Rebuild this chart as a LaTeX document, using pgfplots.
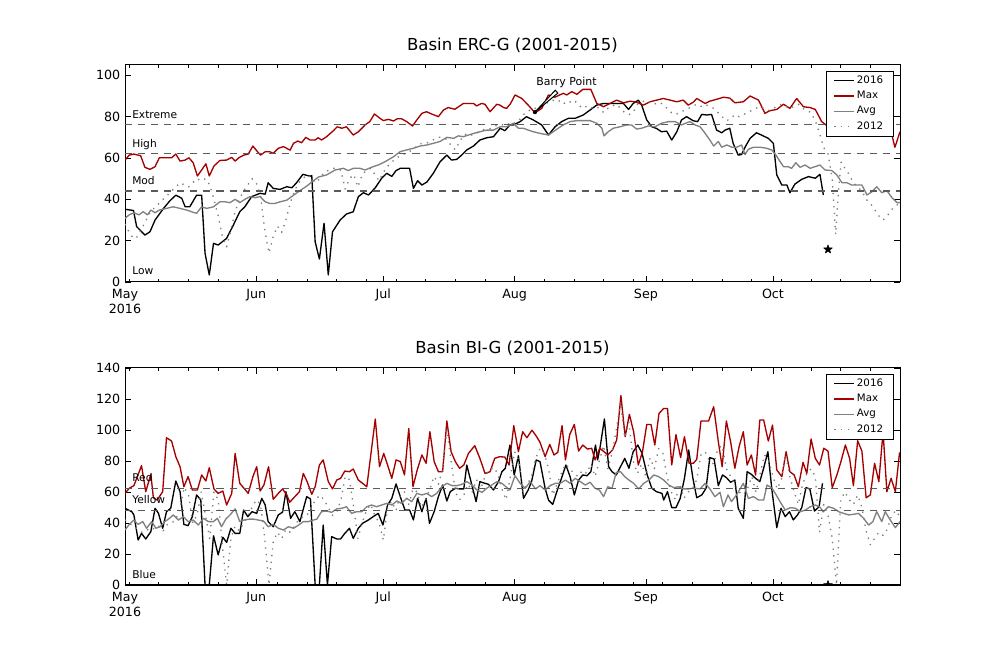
\documentclass[border=0pt]{standalone}
\usepackage{pgfplots}
\pgfplotsset{compat=1.18}
\usepackage{fontspec}
\setmainfont{DejaVu Sans}
\definecolor{maxred}{RGB}{165,0,0}
\definecolor{avggray}{RGB}{128,128,128}
\definecolor{dotgray}{RGB}{125,125,125}
\definecolor{refline}{RGB}{90,90,90}

\pgfdeclareplotmark{fstar}{%
 \pgfpathmoveto{\pgfpointpolar{90}{\pgfplotmarksize}}%
 \pgfpathlineto{\pgfpointpolar{126}{0.4\pgfplotmarksize}}%
 \pgfpathlineto{\pgfpointpolar{162}{\pgfplotmarksize}}%
 \pgfpathlineto{\pgfpointpolar{198}{0.4\pgfplotmarksize}}%
 \pgfpathlineto{\pgfpointpolar{234}{\pgfplotmarksize}}%
 \pgfpathlineto{\pgfpointpolar{270}{0.4\pgfplotmarksize}}%
 \pgfpathlineto{\pgfpointpolar{306}{\pgfplotmarksize}}%
 \pgfpathlineto{\pgfpointpolar{342}{0.4\pgfplotmarksize}}%
 \pgfpathlineto{\pgfpointpolar{18}{\pgfplotmarksize}}%
 \pgfpathlineto{\pgfpointpolar{54}{0.4\pgfplotmarksize}}%
 \pgfpathclose\pgfusepathqfillstroke}

\pgfplotsset{basin/.style={
  scale only axis, width=581.25pt, height=162.75pt, anchor=south west,
  xmin=0, xmax=183,
  xtick={0,31,61,92,123,153},
  xticklabels={May\\2016,Jun,Jul,Aug,Sep,Oct},
  xticklabel style={align=center, yshift=-1.8pt, font=\fontsize{9.5}{11}\selectfont},
  yticklabel style={font=\fontsize{9.5}{11}\selectfont},
  minor xtick={1,8,...,183},
  tick align=inside,
  major tick length=4.5pt, minor tick length=2.2pt,
  tick style={black, line width=0.6pt},
  axis line style={line width=0.75pt},
  /pgf/number format/assume math mode=true,
  title style={at={(0.5,1)}, anchor=south, yshift=3pt, inner sep=0pt, font=\fontsize{12.4}{14}\selectfont},
  legend style={at={(1,1)}, anchor=north east, xshift=-5pt, yshift=-4.5pt, draw=black, fill=white,
    font=\fontsize{7.7}{8}\selectfont, inner xsep=5.5pt, inner ysep=1.5pt, row sep=0.3pt, cells={anchor=west}},
  legend image code/.code={\draw[#1] (0pt,0pt) -- (14.5pt,0pt);},
  every axis plot/.append style={line join=round},
},
refl/.style={refline, line width=0.85pt, dash pattern=on 5.3pt off 4.5pt, mark=none, forget plot}}
\tikzset{lab/.style={anchor=base west, inner sep=0pt, font=\fontsize{8}{9}\selectfont}}

\begin{document}
\begin{tikzpicture}
\useasboundingbox (0,0) rectangle (750pt,487.5pt);

% ---------------- Top panel ----------------
\begin{axis}[basin, at={(93.75pt,276pt)}, ymin=0, ymax=105, ytick={0,20,...,100},
  title={Basin ERC-G (2001-2015)}]
\addplot[black, line width=1pt, mark=none] coordinates {
(0,35.2)(2,34.6)(2.75,26.8)(4.7,22.7)(5.9,24.3)(7.1,30)(9.1,35.6)(10.6,39.3)(12,42)(13.4,40.5)(14.2,36.4)(15.3,36.4)(16.9,42)(18.1,42)(18.9,13.9)(19.9,3.4)(20.9,18.7)(22,17.9)(24,21.1)(25.6,27.6)(27.1,34)(28.3,36.4)(29.9,41.3)(31.9,42.9)(33.1,42.5)(33.8,48)(35,45.3)(36.6,44.8)(38.2,46.1)(39.4,45.6)(40.5,48)(42,52.1)(43.7,51.2)(44.1,51.5)(44.9,19.5)(45.9,11.1)(47,28.4)(48,3.4)(49,24.3)(50.8,30)(52.3,32.9)(53.9,34)(55.1,41.3)(56.3,43.2)(57.5,42.1)(59.1,45.6)(60.6,50.2)(61.8,52.6)(63,51.1)(64,53.9)(65,55)(67.2,55)(68.1,45.3)(69.1,49)(70.1,46.9)(71.3,48.4)(72.8,52.6)(74.4,58.2)(76,61.4)(77.1,59)(78.3,59.3)(79.5,61.4)(80.7,63.9)(82.3,65.8)(83.8,68.7)(85.4,69.8)(87,70.3)(88.6,74.4)(89.7,73.2)(90.9,76)(91.7,76)(93.3,77.6)(94.8,80)(96.4,78.4)(98.4,76)(100,71.1)(101.5,75)(103.1,77.6)(104.7,79.2)(106.3,79.2)(108.2,80.8)(109.8,83.2)(111.4,85.6)(113,86.4)(117.7,86.4)(118.9,83.5)(120,86.4)(121.2,88)(122,85.6)(123.2,78.4)(124.4,75.1)(125.5,74.3)(126.7,72.7)(127.9,73)(129.1,68.7)(130.3,72.7)(131.4,78.4)(132.6,80)(134.2,78)(135.2,77.6)(136.2,81.1)(137.4,80.8)(138.5,81.1)(139.7,73.5)(140.9,72.2)(141.7,73.5)(142.8,74.4)(143.6,67.1)(144.8,61.4)(145.6,61.7)(146.4,65.2)(147.6,69.5)(149.1,72.2)(150.3,71.1)(151.9,69.5)(153.1,67.1)(153.9,51.8)(155.1,46.9)(156.3,46.9)(157,43.2)(158.2,47.4)(159.8,49.7)(161.4,51)(163,50.2)(164.1,52.1)(164.9,42.1)};
\addlegendentry{2016}
\addplot[maxred, line width=1pt, mark=none] coordinates {
(0,59)(1,61.4)(2.1,61.9)(3.7,61.1)(4.7,55.5)(5.9,54.5)(7.1,55.8)(8.1,60.1)(11,60.1)(12,61.9)(13,58.5)(14.2,59)(15.1,60.1)(16.1,57.7)(17.1,51.3)(18.1,54.2)(19.1,57.2)(19.9,51.3)(21,56.1)(22.4,58.8)(24,59)(25.2,60.3)(26,58.5)(27,60.3)(28.1,61.4)(29.1,61.9)(30.2,65.8)(31.1,63.5)(32,61.4)(33.1,63)(34.2,63)(35,62.2)(36.2,64.7)(37.4,65.5)(39,63.8)(39.8,67.1)(40.8,68.2)(41.7,67.4)(42.7,70)(43.7,68.7)(44.9,68.7)(45.6,69.8)(46.4,68.7)(47.6,70.3)(49.2,73.2)(50.1,75.1)(51.2,74.4)(52.3,75.1)(53.9,71.1)(55.1,72.7)(56.7,76)(57.8,77.6)(58.9,81.3)(60.2,79.2)(61,78.1)(62.2,78.7)(63.4,77.9)(64.3,79)(65.3,79)(66.5,77.6)(67.9,75.5)(68.9,78.4)(70.1,81.6)(71.2,82.4)(72.4,81.3)(74,80)(75.2,83.2)(76.3,84.4)(77.9,83.6)(79.9,86.4)(82.3,86.4)(83,85.2)(84.2,86.4)(85,86)(86.2,82.4)(87.8,86)(88.5,85.6)(89.4,84.4)(90.1,84)(91,86.2)(92.1,90.5)(93.7,88.8)(95.2,85.6)(96.8,81.9)(98.4,84)(100,90.5)(101.5,89.4)(103.5,91.3)(104.3,90.5)(105.5,92.1)(106.7,90.8)(108.1,93.2)(110,93.2)(111.4,86.4)(113,84.8)(114.5,86.4)(116.1,88)(117.7,86.7)(119.3,87.5)(120.8,87)(122.4,85.6)(124,87.2)(125.5,88)(127.1,88.8)(128.7,88)(130.3,87.2)(131.8,88)(133,85.6)(134.2,87)(135,88.8)(137,86.4)(138.1,87.5)(139.7,88.4)(141.3,89.4)(142.8,89)(144,86.7)(146,87.2)(147.6,90)(149.6,88)(151.1,81.6)(152.3,82.9)(153.9,83.5)(155.5,86)(157,84)(158.6,88.8)(160.2,84.8)(161.8,84.4)(163,83.5)(164.5,77.6)(166.1,75.1)(167.5,76)(169,79)(171,80)(173,78)(175,79)(177,80)(179,77)(180.6,75.1)(181.8,65.2)(183,72.7)};
\addlegendentry{Max}
\addplot[avggray, line width=1pt, mark=none] coordinates {
(0,30.8)(1,32.5)(2.1,33.5)(3.3,32.5)(4.3,34)(5.3,32.5)(6.1,34.8)(7.1,33.5)(8.1,34.8)(9.8,35.6)(11.4,36.4)(13,35.6)(14.6,34.8)(15.7,34)(16.9,33.2)(18.1,36.4)(19.3,35.6)(20.9,36.4)(22.4,38.8)(23.6,38.8)(24.8,38.4)(26,40)(27.1,38.4)(28.3,40)(29.5,41.3)(30.7,40.8)(31.9,41.3)(33.1,38.8)(34.2,38)(35.4,38)(36.6,38.8)(38.2,39.6)(39.8,42)(41.3,44.2)(42.9,46.4)(44.5,49)(45.7,50.8)(47.6,51.8)(49.6,54.2)(51.6,55)(52.7,53.9)(53.9,55)(55.5,55)(56.7,54.2)(58.2,55.5)(59.8,56.6)(61.4,58.2)(63.4,60.6)(65,63.1)(66.5,63.9)(68.1,64.7)(69.7,65.8)(71.3,66.3)(72.8,67.1)(74.4,68)(76,70)(77.6,69.5)(78.7,70.7)(79.9,70.3)(81.1,71.1)(82.3,71.9)(83.8,72.7)(85.4,73.5)(87,73.5)(88.6,75.1)(90.1,75.1)(91.7,76.8)(92.9,74.4)(94.1,74.4)(95.2,73.5)(96.4,72.7)(98,71.9)(100,71.1)(101.1,72.7)(102.3,74.4)(103.5,76)(105.1,77.6)(106.7,78.1)(109.8,78.1)(111.4,76.8)(112.6,74.4)(113.1,70.7)(114.1,72.7)(115.3,74.4)(116.9,75.1)(118.5,76)(119.6,76)(120.8,74)(122,74.4)(123.6,75.5)(125.1,75.1)(126.7,76.8)(128.3,77.6)(129.9,77.6)(131.4,76)(132.6,77)(133.4,77.6)(134.6,76)(135.8,75.1)(137,71.9)(138.1,68.7)(139,65.8)(140.1,68)(140.9,65.2)(142.1,66.3)(143.3,65.2)(144.4,65.2)(145.6,66.3)(146.4,61.7)(147.2,64.2)(148.4,65.2)(150,65.2)(151.5,64.7)(152.7,63.9)(153.7,61.4)(154.7,58.2)(155.5,55.8)(156.6,55.8)(157.4,55)(158.4,57.7)(159.4,55.5)(160.6,56.6)(161.8,55)(162.9,55.8)(164.1,56.6)(165.3,54.2)(166.9,53.9)(168.1,51.8)(169.3,48)(170.5,48)(171.6,46.9)(174,46.9)(175.2,42.1)(176.4,43.7)(177.5,46.1)(178.7,43.2)(179.9,44.2)(181.1,40.8)(182.3,38.4)(183,38.4)};
\addlegendentry{Avg}
\addplot[dotgray, line width=1pt, dash pattern=on 1pt off 4pt, mark=none] coordinates {
(0,28)(1,24)(2,21)(3,22)(4,26)(5,30)(6,34)(7,36)(8,38)(9,40)(10,42)(11,44)(12,46)(13,48)(14,47)(15,46)(16,48)(17,50)(18,49)(19,50)(20,47)(21,40)(22,32)(23,22)(24,17)(25,25)(26,34)(27,40)(28,44)(29,47)(30,50)(31,48)(32,42)(33,25)(34,14)(35,22)(36,27)(37,24)(38,30)(39,38)(40,44)(41,48)(42,50)(43,52)(44,50)(45,48)(46,50)(47,53)(48,54)(49,55)(50,55)(51,54)(52,45)(53,50)(54,52)(55,46)(56,52)(57,54)(58,55)(59,52)(60,49)(61,53)(62,56)(63,58)(64,60)(65,61)(66,62)(67,63)(68,64)(69,66)(70,67)(71,67)(72,68)(73,69)(74,70)(75,70)(76,69)(77,66)(78,64)(79,68)(80,71)(81,72)(82,71)(83,72)(84,73)(85,74)(86,74)(87,75)(88,76)(89,76)(90,77)(91,76)(92,77)(93,78)(94,81)(95,82)(96,84)(97,84)(98,85)(99,86)(100,87)(101,88)(102,87)(103,88)(104,86)(105,87)(106,88)(107,86)(108,84)(109,85)(110,84)(111,85)(112,84)(113,82)(114,84)(115,85)(116,86)(117,84)(118,82)(119,81)(120,82)(121,86)(122,87)(123,88)(124,87)(125,86)(126,87)(127,86)(128,84)(129,82)(130,81)(131,82)(132,83)(133,84)(134,85)(135,86)(136,85)(137,86)(138,85)(139,84)(140,82)(141,80)(142,78)(143,79)(144,81)(145,80)(146,81)(147,82)(148,83)(149,84)(150,85)(151,84)(152,83)(153,84)(154,85)(155,86)(156,85)(157,84)(158,85)(159,86)(160,84)(161,83)(162,82)(163,78)(164,72)(165,65)(166,62)(167,50)(167.8,23)(168.5,45)(169.1,58)(170,55)(171,52)(172,48)(173,46)(174,44)(175,40)(176,38)(177,35)(178,32)(179,30)(180,32)(181,35)(182,37)(183,38)};
\addlegendentry{2012}
\addplot[refl] coordinates {(0,76)(183,76)};
\addplot[refl] coordinates {(0,62)(183,62)};
\addplot[refl] coordinates {(0,44)(183,44)};
\addplot[black, only marks, mark=fstar, mark size=3.4pt, forget plot] coordinates {(166,15.8)};
\node[lab] at (axis cs:1.65,79.3) {Extreme};
\node[lab] at (axis cs:1.65,65.3) {High};
\node[lab] at (axis cs:1.65,47.4) {Mod};
\node[lab] at (axis cs:1.65,3.4) {Low};
\filldraw[fill=white, draw=black, line width=0.75pt] (axis cs:96.8,82.2) -- (axis cs:102.2,91.4) -- (axis cs:101.6,92.8) -- cycle;
\fill[black] (axis cs:96.8,82.2) circle (1.6pt);
\node[lab, font=\fontsize{8.2}{9}\selectfont] at (axis cs:97.1,95.3) {Barry Point};
\end{axis}

% ---------------- Bottom panel ----------------
\begin{axis}[basin, at={(93.75pt,48.75pt)}, ymin=0, ymax=140, ytick={0,20,...,140},
  title={Basin BI-G (2001-2015)}, clip marker paths=true]
\addplot[black, line width=1pt, mark=none] coordinates {
(0,49.5)(1.6,47.3)(2.1,45.2)(3.1,29)(3.9,33.3)(4.9,29.7)(6.1,34.4)(7.1,49.5)(7.9,46.2)(8.9,36.6)(9.8,47.3)(10.8,49.5)(12,67.1)(13,60.2)(13.9,39.1)(14.9,38.3)(15.9,44.1)(16.9,58.1)(17.9,54.8)(18.9,0)(19.9,0)(20.9,31.8)(22,19.4)(23.1,30.8)(24,27.5)(25,36.6)(26,33.3)(27.1,33.3)(28,48.4)(29,44.1)(30,47.3)(31.1,46.2)(32.3,55.9)(33.1,51.6)(33.8,40.9)(35,37.6)(36.2,45.2)(37.2,47)(38,60.2)(39.1,43)(40.1,47.3)(41.3,40.9)(42.9,57)(43.8,55.5)(44.9,0)(45.9,0)(46.8,38.7)(47.8,0)(48.8,31.2)(50,29.7)(50.9,29.7)(51.9,33.3)(53,36.6)(53.9,30.1)(55.1,36.6)(56.1,39.8)(57.5,42)(58.6,44.1)(59.8,46.2)(60.9,38.7)(62,51.6)(63,55.9)(64,65.2)(65,57)(66.1,48.4)(67.2,48.4)(68.1,42)(69.1,55.9)(70.1,47.3)(71.1,55.9)(71.9,39.8)(73,47.3)(74,57)(75,64.5)(76,54.2)(76.8,60.2)(78,62.4)(79,62)(80,62)(80.7,77.4)(81.9,64.5)(82.9,53.8)(83.8,66.7)(85,65.6)(85.8,65)(87,61.3)(88.2,66.7)(89,73.1)(89.8,75.3)(90.9,90.3)(91.9,71)(92.9,83.4)(94.1,55.9)(95.2,61.3)(96,66.7)(97.1,80.7)(98,79.6)(99.2,62.4)(100,54.8)(101,52)(102.1,61.3)(103.2,69.9)(104.1,77.4)(105.1,69.9)(106.1,58.1)(107.1,67.7)(108.1,71)(109.1,70.5)(110,73.1)(111.1,90.3)(111.6,80.7)(112.2,89.2)(113.2,107.1)(114.2,76.3)(115,73.1)(116,71)(117,76.3)(118,81.7)(119,75.3)(120,86)(121.1,90.3)(122.1,84.9)(123.3,71)(124.4,62.4)(125.5,60.2)(126.8,59.1)(127.2,54.8)(128.1,60.2)(129.1,49.9)(130.1,49.9)(131.1,55.9)(132.1,68.8)(133.1,87.1)(134.1,68.8)(135,56.3)(136.2,58.1)(137.2,62.4)(138.1,82.2)(139.1,81.3)(140.1,64.1)(141.1,71)(142,69.3)(143,66.3)(144,67.7)(144.8,49.5)(146,43)(146.9,73.1)(147.9,71.4)(148.9,68.8)(149.9,66.7)(150.8,75.3)(151.8,86)(152.8,60.2)(153.9,37)(154.9,49.5)(155.9,44.1)(156.9,47.3)(157.8,42)(158.8,45.2)(159.8,49.9)(160.8,62.8)(161.7,62)(162.8,47.7)(163.9,50.5)(164.7,65.6)};
\addlegendentry{2016}
\addplot[maxred, line width=1pt, mark=none] coordinates {
(0,59.1)(1,62.4)(2.1,64.1)(3.9,77)(4.9,60.2)(6.1,71.4)(6.7,56.3)(7.6,54.8)(8.9,60.2)(9.8,95)(11,92.9)(12,82.8)(13,76.3)(13.9,63.4)(14.9,69.9)(15.9,61.3)(17.1,61.3)(18.1,71)(19.1,67.1)(19.9,75.7)(21,62)(22,59.1)(23.1,60.6)(24,51.6)(25.2,59.1)(26,84.9)(27.1,65.6)(28.1,62.4)(29.1,59.1)(30.2,69.9)(31.1,76.3)(31.9,60.6)(32.8,64.5)(33.9,76.3)(35,55.3)(36.2,59.1)(37.2,62)(38.2,58.1)(38.9,53.4)(40.1,57)(41.2,60.2)(42.1,72)(43,66.7)(44.1,58.5)(44.9,63.4)(45.9,77.4)(46.8,80.7)(48,66.7)(49,62)(50,67.7)(50.9,68.8)(51.9,73.5)(53,73.1)(53.9,74.8)(55.1,67.7)(56.1,65.6)(57.1,63.4)(59.1,107.1)(60.1,76.3)(61.1,84.9)(62,77.4)(63,68.8)(64,80.7)(65,79.6)(66,71)(67,101)(68,63.4)(69,74.2)(70.1,83.9)(71.1,78.5)(72,98.9)(73,79.6)(74,73.1)(75,73.1)(76,105.8)(77,86)(78,79.6)(79,75.3)(80,77.4)(81.1,84.9)(82.6,89.9)(83.8,81.7)(85,72)(86.2,73.1)(87.3,81.7)(88.5,82.8)(89.7,82.5)(90.7,77.4)(91.8,102.8)(92.9,86)(93.9,98.9)(94.9,95)(96.1,99.9)(97.2,95.7)(98,92)(99.2,82.8)(100.3,90.7)(101.3,83.9)(102.2,85.6)(103.2,102.8)(104,80.7)(105,97)(106.1,103.6)(107.1,86.4)(108.1,90.3)(109.2,87.7)(110.2,88.2)(111,80.7)(112.1,88.2)(113.1,86)(114,83.9)(115.1,87.1)(116.1,93.5)(117.1,122.2)(118.1,95.7)(119.1,110.1)(120.1,98.9)(121.2,77.4)(122.2,86)(123.2,103.6)(124.2,103.6)(125.1,90.3)(126.1,110.7)(127.2,113.9)(128.1,113.9)(129.1,77.4)(130.1,97)(131.2,82.2)(132.1,95.7)(133.2,78.5)(134.2,78.5)(135,81)(136,105.8)(137.8,105.8)(139,115)(140.1,92.5)(141,76.3)(142,105.8)(143,92.5)(144,75.3)(145,89.2)(146,98.9)(146.9,77.4)(147.9,83.9)(148.9,71)(149.9,106.5)(150.8,106.5)(151.9,92.9)(152.9,103.2)(153.9,74.2)(155.1,69.9)(156.1,86)(157,73.1)(158,71)(159,63.4)(160.1,79.1)(161,72)(162,94.2)(163,81.7)(164,77.4)(165,88.2)(166,86.4)(167,62.8)(168.1,71)(169,79.1)(170.1,90.3)(171.1,81.7)(172,64.1)(173,93.1)(174,86.4)(175,56.3)(176,58.1)(177,78.5)(178,66.7)(179,98.9)(179.9,60.2)(180.9,68.8)(181.9,60.2)(182.9,85.6)};
\addlegendentry{Max}
\addplot[avggray, line width=1pt, mark=none] coordinates {
(0,35.5)(1,39.1)(2.1,41.9)(3.1,39.1)(4.2,40.9)(5.1,36.6)(6.3,40.9)(7.3,36.6)(8.3,37.6)(9.4,40.9)(10.5,43)(11.4,45.2)(12.6,41.9)(13.8,44.1)(14.9,40.9)(16.1,41.9)(17.3,38.7)(18.5,43)(19.7,40.9)(20.9,40.9)(21.8,43)(22.8,37.6)(23.8,42.5)(24.8,45.2)(26,49.1)(27.1,40.9)(28.1,41.9)(29.4,42.5)(30.3,42.5)(31.5,41.9)(32.7,41.3)(33.8,37.6)(35,39.1)(36.2,36.6)(37.4,35.5)(38.6,37.6)(39.8,36.6)(41,38.7)(42.1,40.9)(43.3,40.9)(44.5,41.9)(45.3,42.5)(46.4,47.3)(47.6,47.7)(48.8,46.9)(50,49.1)(51.2,49.5)(52.3,50.5)(53.5,46.2)(54.7,47.3)(55.9,47.3)(57.1,50.5)(58.2,51.6)(59.4,50.5)(60.6,51.6)(61.8,52.7)(63,51.6)(64.2,54.2)(65.3,52.7)(66.5,55.9)(67.7,53.8)(68.9,59.1)(70.1,58.1)(71.3,59.1)(72.4,57)(73.6,59.1)(74.8,63.4)(76,65.6)(77.2,64.1)(78.4,64.1)(79.5,64.9)(80.7,66.7)(81.9,64.5)(83.1,61.3)(84.3,59.8)(85.4,62.4)(86.6,64.5)(87.8,66.7)(89,65.6)(90.1,63)(90.9,61.3)(92.1,70.5)(93.3,65.6)(94.5,62.4)(95.7,66.7)(96.9,62)(98,64.1)(99.2,61.3)(100.4,64.1)(101.6,65.6)(102.8,65.6)(104,67.7)(105.1,65.6)(106.3,68.8)(107.5,66.7)(108.7,64.5)(109.8,66.3)(111,62.4)(112,61.3)(113,57)(114,63.4)(115,62.4)(116,72.7)(117,73.1)(118,69.9)(119,67.7)(120.1,65.6)(121.3,62)(122.5,65.6)(123.7,67.7)(124.9,71)(126,69.9)(127.2,67.7)(128.4,64.5)(129.6,62.8)(130.7,63.4)(131.9,62)(133.1,62)(134.3,62.5)(135.8,62)(137,65.6)(138.1,62)(139.3,57)(140.5,59.8)(141.3,50.5)(142.4,58.1)(143.2,53.8)(144.4,58.1)(146,65.6)(147.2,55.9)(148.4,57)(149.6,54.8)(150.8,54.8)(151.6,64.5)(152.8,62.4)(154,57)(154.9,52.7)(155.9,48.4)(157.1,49.9)(158.3,49.5)(159.5,47.3)(160.7,48.4)(161.8,50.5)(163,51.6)(164,50.5)(164.9,47.3)(166.1,50.5)(167.3,49.5)(168.5,47.3)(169.7,46.2)(170.9,45.2)(172,45.6)(173.2,46.2)(174.4,43)(175.6,38.7)(176.6,40.9)(177.5,47.3)(178.7,40.9)(179.5,47.3)(180.7,41.9)(181.9,37)(183,40.9)};
\addlegendentry{Avg}
\addplot[dotgray, line width=1pt, dash pattern=on 1pt off 4pt, mark=none] coordinates {
(0,42)(1,40)(2,38)(3,36)(4,34)(5,35)(6,37)(7,36)(8,38)(9,35)(10,39)(11,40)(12,42)(13,50)(14,63)(15,58)(16,40)(17,45)(18,60)(19,45)(20,30)(21,60)(22,55)(23,25)(24,0)(25,30)(26,38)(27,35)(28,40)(29,45)(30,50)(31,55)(32,52)(33,30)(34,0)(35,28)(36,34)(37,30)(38,36)(39,34)(40,38)(41,42)(42,44)(43,45)(44,50)(45,55)(46,58)(47,55)(48,50)(49,45)(50,47)(51,55)(52,70)(53,68)(54,50)(55,30)(56,40)(57,48)(58,52)(59,45)(60,40)(61,29)(62,50)(63,54)(64,48)(65,58)(66,60)(67,52)(68,62)(69,60)(70,50)(71,55)(72,62)(73,70)(74,65)(75,75)(76,100)(77,80)(78,60)(79,55)(80,58)(81,65)(82,60)(83,68)(84,62)(85,70)(86,74)(87,76)(88,72)(89,62)(90,55)(91,70)(92,86)(93,80)(94,60)(95,65)(96,70)(97,82)(98,88)(99,85)(100,75)(101,58)(102,65)(103,72)(104,78)(105,75)(106,72)(107,70)(108,74)(109,72)(110,78)(111,70)(112,80)(113,90)(114,75)(115,85)(116,100)(117,118)(118,95)(119,105)(120,80)(121,72)(122,78)(123,70)(124,82)(125,75)(126,88)(127,85)(128,70)(129,60)(130,55)(131,65)(132,56)(133,60)(134,62)(135,68)(136,84)(137,86)(138,80)(139,78)(140,88)(141,90)(142,75)(143,70)(144,65)(145,60)(146,58)(147,62)(148,70)(149,60)(150,72)(151,84)(152,80)(153,70)(154,62)(155,68)(156,84)(157,70)(158,60)(159,52)(160,65)(161,72)(162,75)(163,70)(164,34)(165,52)(166,45)(167,30)(168,0)(169,55)(170,60)(171,55)(172,52)(173,58)(174,50)(175,35)(176,26)(177,30)(178,34)(179,32)(180,36)(181,45)(182,48)(183,44)};
\addlegendentry{2012}
\addplot[refl] coordinates {(0,62)(183,62)};
\addplot[refl] coordinates {(0,48)(183,48)};
\addplot[black, only marks, mark=fstar, mark size=3.4pt, forget plot] coordinates {(166,0)};
\node[lab] at (axis cs:1.65,66.5) {Red};
\node[lab] at (axis cs:1.65,52.9) {Yellow};
\node[lab] at (axis cs:1.65,4.5) {Blue};
\end{axis}
\end{tikzpicture}
\end{document}
